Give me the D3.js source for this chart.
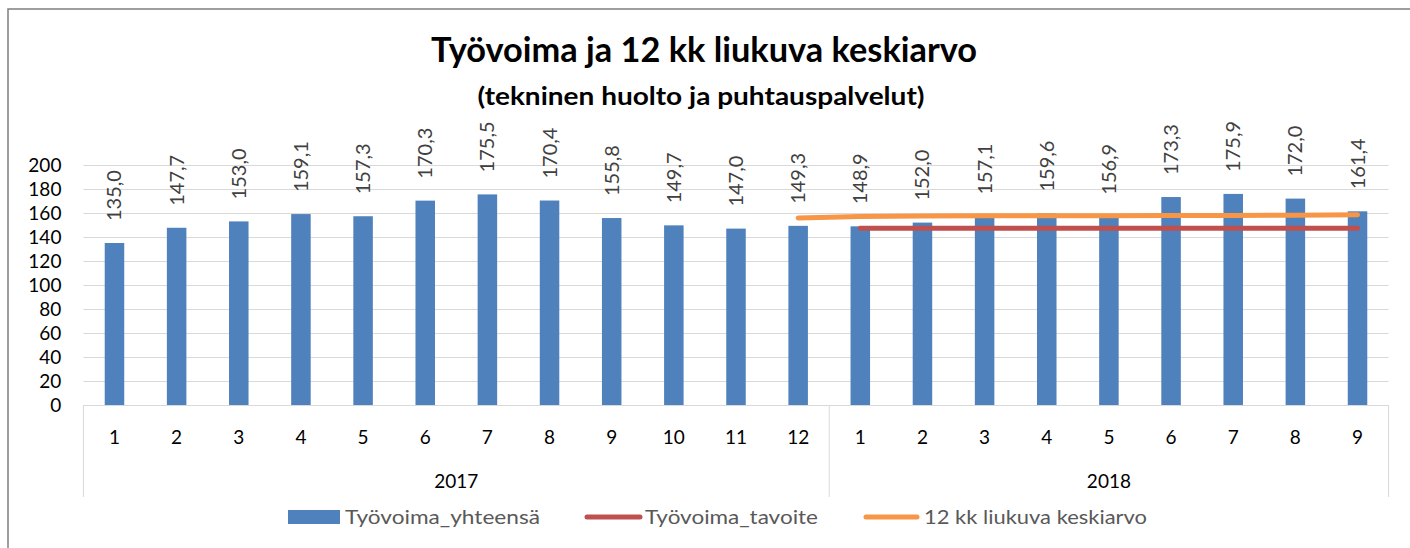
<!DOCTYPE html>
<html>
<head>
<meta charset="utf-8">
<script src="https://cdn.jsdelivr.net/npm/d3@7/dist/d3.min.js"></script>
<style>
  html, body { margin: 0; padding: 0; background: #fff; }
  svg { display: block; font-family: Lato, "Open Sans", sans-serif; }
</style>
</head>
<body>
<svg id="chart" width="1410" height="548"></svg>
<script>
// ---- data ----
const years = ["2017", "2018"];
const months2017 = ["1","2","3","4","5","6","7","8","9","10","11","12"];
const months2018 = ["1","2","3","4","5","6","7","8","9"];
const tyovoimaYhteensa = [135.0, 147.7, 153.0, 159.1, 157.3, 170.3, 175.5, 170.4, 155.8, 149.7, 147.0, 149.3,
                          148.9, 152.0, 157.1, 159.6, 156.9, 173.3, 175.9, 172.0, 161.4];
const tyovoimaTavoite = [null, null, null, null, null, null, null, null, null, null, null, null,
                         147.2, 147.2, 147.2, 147.2, 147.2, 147.2, 147.2, 147.2, 147.2];
const liukuvaKeskiarvo = [null, null, null, null, null, null, null, null, null, null, null, 155.8,
                          157.0, 157.4, 157.7, 157.7, 157.7, 158.0, 158.0, 158.1, 158.6];
const yTicks = [0, 20, 40, 60, 80, 100, 120, 140, 160, 180, 200];
const seriesNames = ["Työvoima_yhteensä", "Työvoima_tavoite", "12 kk liukuva keskiarvo"];
const titleText = "Työvoima ja 12 kk liukuva keskiarvo";
const subtitleText = "(tekninen huolto ja puhtauspalvelut)";

// ---- build categories ----
const cats = [];
months2017.forEach(m => cats.push({ key: "2017-" + m, month: m, year: years[0] }));
months2018.forEach(m => cats.push({ key: "2018-" + m, month: m, year: years[1] }));

const svg = d3.select("#chart");
const pLeft = 83.4, pRight = 1388.6, pTop = 165, pBottom = 405;

const x = d3.scaleBand().domain(cats.map(c => c.key)).range([pLeft, pRight])
  .paddingInner(0.686).paddingOuter(0.343);
const y = d3.scaleLinear().domain([0, 200]).range([pBottom, pTop]);
const cx = k => x(k) + x.bandwidth() / 2;

const locale = d3.formatLocale({ decimal: ",", thousands: " ", grouping: [3], currency: ["", "€"] });
const fmt = locale.format(".1f");

// frame
svg.append("rect").attr("x", 8).attr("y", 9).attr("width", 1500).attr("height", 700)
  .attr("fill", "none").attr("stroke", "#7f7f7f").attr("stroke-width", 1.5);

// title
svg.append("text").attr("x", 704).attr("y", 62).attr("text-anchor", "middle")
  .attr("font-size", 34).attr("font-weight", 700).attr("fill", "#000")
  .attr("textLength", 546).attr("lengthAdjust", "spacingAndGlyphs").text(titleText);
svg.append("text").attr("x", 701).attr("y", 105).attr("text-anchor", "middle")
  .attr("font-size", 25).attr("font-weight", 700).attr("fill", "#000")
  .attr("textLength", 447).attr("lengthAdjust", "spacingAndGlyphs").text(subtitleText);

// gridlines
svg.append("g").selectAll("line").data(yTicks.filter(t => t > 0)).join("line")
  .attr("x1", pLeft).attr("x2", pRight)
  .attr("y1", d => Math.round(y(d)) + 0.5).attr("y2", d => Math.round(y(d)) + 0.5)
  .attr("stroke", "#d9d9d9").attr("stroke-width", 1);

// y axis
const yAxis = svg.append("g").attr("transform", `translate(${pLeft},0)`)
  .call(d3.axisLeft(y).tickValues(yTicks).tickSize(0).tickPadding(22));
yAxis.select(".domain").remove();
yAxis.selectAll("text").attr("font-size", 19).attr("fill", "#000")
  .attr("font-family", "Lato, sans-serif");

// bars
svg.append("g").selectAll("rect").data(cats).join("rect")
  .attr("x", d => x(d.key)).attr("width", x.bandwidth())
  .attr("y", (d, i) => y(tyovoimaYhteensa[i]))
  .attr("height", (d, i) => pBottom - y(tyovoimaYhteensa[i]))
  .attr("fill", "#4f81bd");

// category axis box
const g = svg.append("g").attr("stroke", "#d9d9d9").attr("stroke-width", 1);
g.append("line").attr("x1", pLeft).attr("x2", pRight).attr("y1", pBottom + 0.5).attr("y2", pBottom + 0.5);
const divX = [pLeft, x(cats[12].key) - x.step() * x.paddingInner() / 2, pRight];
g.selectAll(".v").data(divX).join("line").attr("class", "v")
  .attr("x1", d => d).attr("x2", d => d).attr("y1", pBottom).attr("y2", 497);

svg.append("g").selectAll("text").data(cats).join("text")
  .attr("x", d => cx(d.key)).attr("y", 444).attr("text-anchor", "middle")
  .attr("font-size", 19).attr("fill", "#000").text(d => d.month);

const yearCenters = years.map((yr, i) => (divX[i] + divX[i + 1]) / 2);
svg.append("g").selectAll("text").data(years).join("text")
  .attr("x", (d, i) => yearCenters[i]).attr("y", 488).attr("text-anchor", "middle")
  .attr("font-size", 19).attr("fill", "#000").text(d => d);

// lines
const lineGen = d3.line().defined(d => d.v != null).x(d => cx(d.key)).y(d => y(d.v));
svg.append("path").datum(cats.map((c, i) => ({ key: c.key, v: tyovoimaTavoite[i] })))
  .attr("d", lineGen).attr("fill", "none").attr("stroke", "#c0504d")
  .attr("stroke-width", 5).attr("stroke-linecap", "round");
svg.append("path").datum(cats.map((c, i) => ({ key: c.key, v: liukuvaKeskiarvo[i] })))
  .attr("d", lineGen).attr("fill", "none").attr("stroke", "#f79646")
  .attr("stroke-width", 5).attr("stroke-linecap", "round");

// data labels
svg.append("g").selectAll("text").data(cats).join("text")
  .attr("transform", (d, i) => `translate(${cx(d.key)},${y(tyovoimaYhteensa[i]) - 22}) rotate(-90)`)
  .attr("dy", "0.35em").attr("text-anchor", "start")
  .attr("font-size", 20).attr("fill", "#404040")
  .text((d, i) => fmt(tyovoimaYhteensa[i]));

// legend
const lg = svg.append("g");
lg.append("rect").attr("x", 288).attr("y", 510).attr("width", 52).attr("height", 14).attr("fill", "#4f81bd");
lg.append("line").attr("x1", 587).attr("x2", 640).attr("y1", 517).attr("y2", 517)
  .attr("stroke", "#c0504d").attr("stroke-width", 5).attr("stroke-linecap", "round");
lg.append("line").attr("x1", 866).attr("x2", 917).attr("y1", 517).attr("y2", 517)
  .attr("stroke", "#f79646").attr("stroke-width", 5).attr("stroke-linecap", "round");
const legX = [345, 645, 924], legW = [195, 173, 223];
lg.selectAll("text").data(seriesNames).join("text")
  .attr("x", (d, i) => legX[i]).attr("y", 524)
  .attr("font-size", 20).attr("fill", "#595959")
  .attr("textLength", (d, i) => legW[i]).attr("lengthAdjust", "spacingAndGlyphs")
  .text(d => d);
</script>
</body>
</html>
